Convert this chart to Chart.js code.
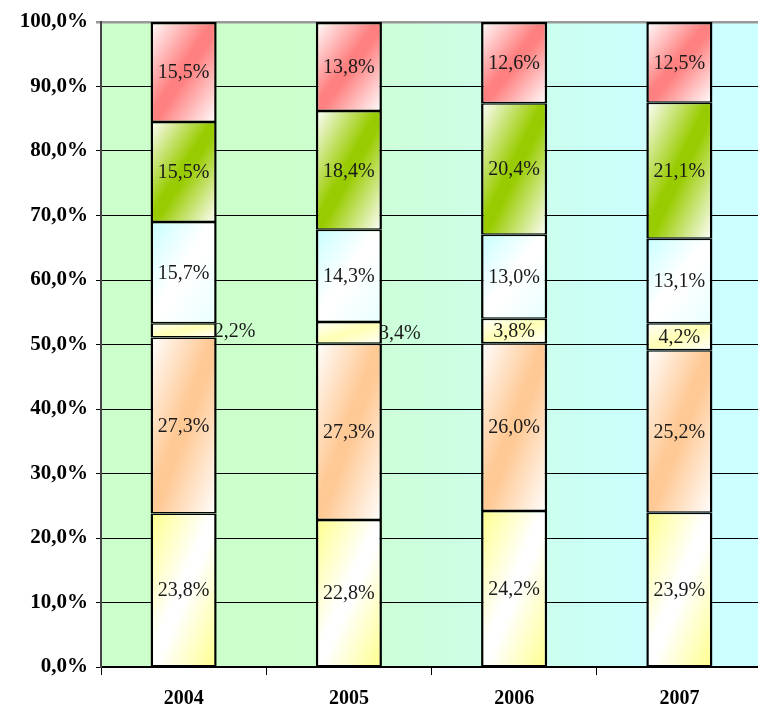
<!DOCTYPE html>
<html>
<head>
<meta charset="utf-8">
<script src="https://cdn.jsdelivr.net/npm/chart.js@4.4.0/dist/chart.umd.min.js"></script>
<style>
  html, body { margin: 0; padding: 0; background: #fff; overflow: hidden; }
  #wrap { width: 762px; height: 712px; }
</style>
</head>
<body>
<div id="wrap"><canvas id="chart" width="762" height="712"></canvas></div>
<script>
// values (share of total, %)
const years = ['2004', '2005', '2006', '2007'];
const share1 = [23.8, 22.8, 24.2, 23.9];
const share2 = [27.3, 27.3, 26.0, 25.2];
const share3 = [2.2, 3.4, 3.8, 4.2];
const share4 = [15.7, 14.3, 13.0, 13.1];
const share5 = [15.5, 18.4, 20.4, 21.1];
const share6 = [15.5, 13.8, 12.6, 12.5];
const yTicks = [0, 10, 20, 30, 40, 50, 60, 70, 80, 90, 100];

const series = [share1, share2, share3, share4, share5, share6];

// gradient colours for each series (top-left -> bottom-right of the bar segment)
const stops = [
    ['#ffff8c', '#ffffff', '#ffff8c'],
    ['#ffffff', '#ffc995', '#ffffff'],
    ['#ffffff', '#ffffb8', '#ffffff'],
    ['#c8ffff', '#ffffff', '#e8ffff'],
    ['#ffffff', '#99cc00', '#ffffff'],
    ['#ffffff', '#ff8080', '#ffffff']
];

function fmt(v) {
    return v.toFixed(1).replace('.', ',') + '%';
}

function segmentFill(ctx) {
    const di = ctx.datasetIndex;
    const flat = stops[di][1];
    if (ctx.type !== 'data') return flat;
    const chart = ctx.chart;
    const xs = chart.scales.x, ys = chart.scales.y;
    if (!xs || !ys || !chart.chartArea) return flat;
    const i = ctx.dataIndex;
    let base = 0;
    for (let k = 0; k < di; k++) base += series[k][i];
    const top = base + series[di][i];
    const w = xs.width / years.length * 0.4;
    const x0 = xs.getPixelForValue(i) - w / 2;
    const y0 = ys.getPixelForValue(top);
    const h = ys.getPixelForValue(base) - y0;
    if (!isFinite(x0) || !isFinite(y0) || h <= 0) return flat;
    const cx = x0 + w / 2, cy = y0 + h / 2;
    const f = w * h / (w * w + h * h);
    const g = chart.ctx.createLinearGradient(cx - f * h, cy - f * w, cx + f * h, cy + f * w);
    g.addColorStop(0, stops[di][0]);
    g.addColorStop(0.46, stops[di][1]);
    g.addColorStop(0.54, stops[di][1]);
    g.addColorStop(1, stops[di][2]);
    return g;
}

const plotBackground = {
    id: 'plotBackground',
    beforeDraw(chart) {
        const { ctx, chartArea: a } = chart;
        const g = ctx.createLinearGradient(a.left, 0, a.right, 0);
        g.addColorStop(0, '#ccffcc');
        g.addColorStop(0.3, '#ccffcc');
        g.addColorStop(0.6, '#ccffe8');
        g.addColorStop(0.85, '#ccffff');
        g.addColorStop(1, '#ccffff');
        ctx.save();
        ctx.fillStyle = g;
        ctx.fillRect(a.left, a.top, a.right - a.left, a.bottom - a.top);
        ctx.restore();
    }
};

const segmentLabels = {
    id: 'segmentLabels',
    afterDatasetsDraw(chart) {
        const ctx = chart.ctx;
        ctx.save();
        ctx.font = '20px "Liberation Serif", serif';
        ctx.fillStyle = '#1a1a1a';
        ctx.textAlign = 'center';
        ctx.textBaseline = 'middle';
        chart.data.datasets.forEach((ds, di) => {
            chart.getDatasetMeta(di).data.forEach((bar, i) => {
                const v = ds.data[i];
                let x = bar.x;
                // thin segments get their label pushed beside the bar
                if (v < 3.5) x += bar.width * 0.77;
                ctx.fillText(fmt(v), x, (bar.y + bar.base) / 2 + 1);
            });
        });
        ctx.restore();
    }
};

const datasets = series.map((data, di) => ({
    label: 'S' + (di + 1),
    data: data,
    backgroundColor: segmentFill,
    borderColor: '#000',
    borderWidth: {
        left: 2.5,
        right: 2.5,
        top: di === series.length - 1 ? 2.5 : 1.5,
        bottom: 1.5
    },
    borderSkipped: false,
    barPercentage: 1,
    categoryPercentage: 0.4
}));

new Chart(document.getElementById('chart'), {
    type: 'bar',
    data: { labels: years, datasets: datasets },
    plugins: [plotBackground, segmentLabels],
    options: {
        responsive: false,
        animation: false,
        devicePixelRatio: 1,
        layout: { padding: { top: 22, left: 0, right: 0, bottom: 0 } },
        plugins: {
            legend: { display: false },
            tooltip: { enabled: false }
        },
        scales: {
            x: {
                stacked: true,
                afterFit(scale) { scale.height = 45; },
                border: { color: '#000', width: 1.5 },
                grid: { drawOnChartArea: false, tickLength: 8, color: '#000', offset: true },
                ticks: {
                    padding: 12,
                    color: '#000',
                    font: { family: '"Liberation Serif", serif', size: 20, weight: 'bold' }
                }
            },
            y: {
                stacked: true,
                min: 0,
                max: 100,
                afterFit(scale) { scale.width = 101; },
                afterBuildTicks(scale) { scale.ticks = yTicks.map(v => ({ value: v })); },
                border: { color: '#444', width: 2 },
                grid: {
                    tickLength: 5,
                    color: ctx => ctx.tick && ctx.tick.value === 100 ? '#999' : '#000',
                    lineWidth: ctx => ctx.tick && ctx.tick.value === 100 ? 2.5 : 1
                },
                ticks: {
                    padding: 8,
                    color: '#000',
                    font: { family: '"Liberation Serif", serif', size: 21, weight: 'bold' },
                    callback: v => fmt(v)
                }
            }
        }
    }
});
</script>
</body>
</html>
